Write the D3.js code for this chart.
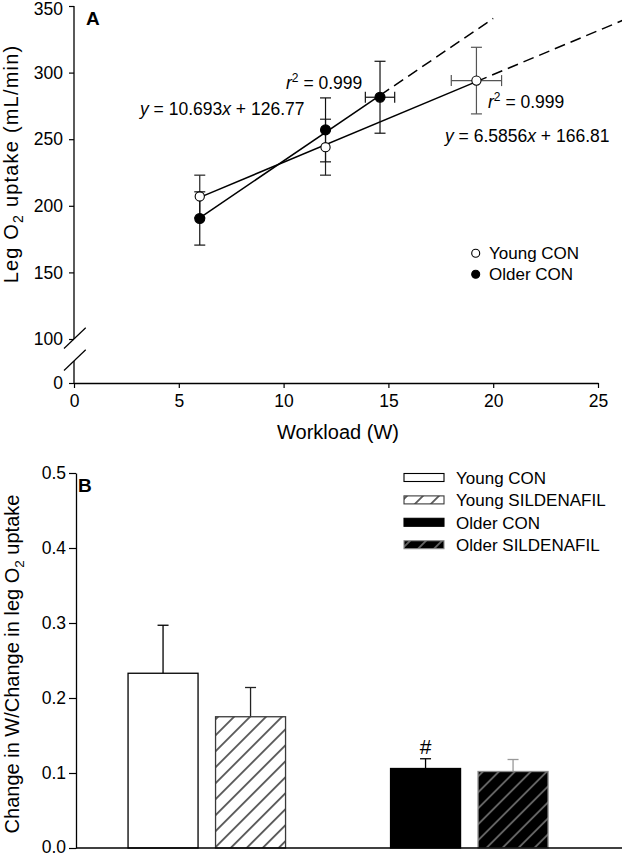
<!DOCTYPE html>
<html><head><meta charset="utf-8">
<script src="https://cdn.jsdelivr.net/npm/d3@7"></script>
<style>
html,body{margin:0;padding:0;background:#fff;}
svg{display:block;}
text{font-family:"Liberation Sans",Arial,Helvetica,sans-serif;fill:#000;}
</style></head><body>
<svg id="chart" width="622" height="856"></svg>
<script>
// ---------- Panel A data ----------
const youngX = [6, 12, 19.2];
const youngY = [207, 244, 294];
const youngYErr = [16, 21, 25];
const youngXErr = [0, 0, 1.2];
const olderX = [6, 12, 14.6];
const olderY = [190.5, 257, 281.5];
const olderYErr = [20, 24, 27];
const olderXErr = [0, 0, 0.7];
const fitSlope = [6.5856, 10.693];      // young, older
const fitIntercept = [166.81, 126.77];
const fitEndX = [26.2, 20.0];
const xTicksA = [0, 5, 10, 15, 20, 25];
const yTicksA = [0, 100, 150, 200, 250, 300, 350];
const legendA = ["Young CON", "Older CON"];
// ---------- Panel B data ----------
const barCats = ["Young CON", "Young SILDENAFIL", "Older CON", "Older SILDENAFIL"];
const barSlots = ["Young CON", "Young SILDENAFIL", "", "Older CON", "Older SILDENAFIL"];
const barVals = [0.233, 0.175, 0.106, 0.102];
const barErrs = [0.064, 0.039, 0.013, 0.016];
const yTicksB = [0, 0.1, 0.2, 0.3, 0.4, 0.5];

const W = 622, H = 856;
const FONT = 17.5;
const svg = d3.select("#chart");

// patterns
const defs = svg.append("defs");
function hatch(id, bg, fg, sw) {
  const p = defs.append("pattern").attr("id", id).attr("patternUnits", "userSpaceOnUse")
    .attr("width", 11.3).attr("height", 11.3).attr("patternTransform", "rotate(45)");
  p.append("rect").attr("width", 11.3).attr("height", 11.3).attr("fill", bg);
  p.append("line").attr("x1", 5.65).attr("x2", 5.65).attr("y1", -1).attr("y2", 12.3)
    .attr("stroke", fg).attr("stroke-width", sw);
}
hatch("hatchW", "#fff", "#000", 1.2);
hatch("hatchK", "#000", "#9a9a9a", 1.2);

// =================== PANEL A ===================
const xA = d3.scaleLinear().domain([0, 25]).range([74, 598]);
const yA = d3.scaleLinear().domain([0, 100, 350]).range([383, 339, 6]);
const gA = svg.append("g");

// y axis
const gYA = gA.append("g").attr("transform", `translate(${xA(0)},0)`)
  .call(d3.axisLeft(yA).tickValues(yTicksA).tickSize(5).tickPadding(6));
gYA.select(".domain").remove();
gYA.selectAll("line").attr("stroke", "#000").attr("stroke-width", 1.2);
gYA.selectAll("text").attr("font-size", FONT).attr("font-family", null);
gYA.selectAll(".tick").filter(d => d === 350).select("text").attr("y", 2.5);
gA.append("line").attr("x1", xA(0)).attr("x2", xA(0)).attr("y1", yA(350)).attr("y2", yA(100))
  .attr("stroke", "#000").attr("stroke-width", 1.3);
gA.append("line").attr("x1", xA(0)).attr("x2", xA(0)).attr("y1", yA(50)).attr("y2", yA(0))
  .attr("stroke", "#000").attr("stroke-width", 1.3);
// break marks
[100, 50].forEach(v => {
  const cy = yA(v);
  gA.append("line").attr("x1", xA(0) - 10).attr("y1", cy + 9.5).attr("x2", xA(0) + 11.7).attr("y2", cy - 11.2)
    .attr("stroke", "#000").attr("stroke-width", 1.2);
});

// x axis
const gXA = gA.append("g").attr("transform", `translate(0,${yA(0)})`)
  .call(d3.axisBottom(xA).tickValues(xTicksA).tickSize(5).tickPadding(7).tickSizeOuter(0));
gXA.select(".domain").attr("stroke", "#000").attr("stroke-width", 1.3);
gXA.selectAll("line").attr("stroke", "#000").attr("stroke-width", 1.2);
gXA.selectAll("text").attr("font-size", FONT).attr("font-family", null);

gA.append("text").attr("x", 338).attr("y", 439).attr("text-anchor", "middle")
  .attr("font-size", 20).text("Workload (W)");

const ytA = gA.append("text").attr("transform", "translate(18,164) rotate(-90)")
  .attr("text-anchor", "middle").attr("font-size", 20).attr("letter-spacing", 1.2);
ytA.append("tspan").text("Leg O");
ytA.append("tspan").attr("font-size", 14).attr("dy", 5).text("2");
ytA.append("tspan").attr("dy", -5).text(" uptake (mL/min)");

gA.append("text").attr("x", 86).attr("y", 25).attr("font-size", 19).attr("font-weight", "bold").text("A");

// regression lines
const series = [
  {x: youngX, y: youngY, ye: youngYErr, xe: youngXErr, filled: false, errColor: ["#222", "#222", "#555"]},
  {x: olderX, y: olderY, ye: olderYErr, xe: olderXErr, filled: true, errColor: ["#111", "#111", "#111"]}
];
series.forEach((s, i) => {
  const f = x => fitSlope[i] * x + fitIntercept[i];
  const x0 = s.x[0], x1 = s.x[s.x.length - 1], x2 = fitEndX[i];
  gA.append("line").attr("x1", xA(x0)).attr("y1", yA(f(x0))).attr("x2", xA(x1)).attr("y2", yA(f(x1)))
    .attr("stroke", "#000").attr("stroke-width", 1.5);
  gA.append("line").attr("x1", xA(x1)).attr("y1", yA(f(x1))).attr("x2", xA(x2)).attr("y2", yA(f(x2)))
    .attr("stroke", "#000").attr("stroke-width", 1.5).attr("stroke-dasharray", "11,6");
});

// error bars
const CAP = 5.5;
series.forEach(s => {
  s.x.forEach((xv, j) => {
    const col = s.errColor[j];
    const px = xA(xv), py = yA(s.y[j]);
    const yt = yA(s.y[j] + s.ye[j]), yb = yA(s.y[j] - s.ye[j]);
    gA.append("line").attr("x1", px).attr("x2", px).attr("y1", yt).attr("y2", yb).attr("stroke", col).attr("stroke-width", 1.2);
    [yt, yb].forEach(yy => gA.append("line").attr("x1", px - CAP).attr("x2", px + CAP).attr("y1", yy).attr("y2", yy)
      .attr("stroke", col).attr("stroke-width", 1.2));
    if (s.xe[j] > 0) {
      const xl = xA(xv - s.xe[j]), xr = xA(xv + s.xe[j]);
      gA.append("line").attr("x1", xl).attr("x2", xr).attr("y1", py).attr("y2", py).attr("stroke", col).attr("stroke-width", 1.2);
      [xl, xr].forEach(xx => gA.append("line").attr("x1", xx).attr("x2", xx).attr("y1", py - CAP).attr("y2", py + CAP)
        .attr("stroke", col).attr("stroke-width", 1.2));
    }
  });
});
// points
series.forEach(s => {
  s.x.forEach((xv, j) => {
    gA.append("circle").attr("cx", xA(xv)).attr("cy", yA(s.y[j])).attr("r", s.filled ? 5 : 4.6)
      .attr("fill", s.filled ? "#000" : "#fff").attr("stroke", "#000").attr("stroke-width", 1.1);
  });
});

// annotations
function rsq(x, y) {
  const t = gA.append("text").attr("x", x).attr("y", y).attr("font-size", FONT);
  t.append("tspan").attr("font-style", "italic").text("r");
  t.append("tspan").attr("font-size", 12).attr("dy", -7).text("2");
  t.append("tspan").attr("dy", 7).text(" = 0.999");
}
function eqn(x, y, m, b) {
  const t = gA.append("text").attr("x", x).attr("y", y).attr("font-size", FONT);
  t.append("tspan").attr("font-style", "italic").text("y");
  t.append("tspan").text(` = ${m}`);
  t.append("tspan").attr("font-style", "italic").text("x");
  t.append("tspan").text(` + ${b}`);
}
rsq(286, 89);
eqn(140, 115, "10.693", "126.77");
rsq(488, 108);
eqn(445, 141.5, "6.5856", "166.81");

// legend A
legendA.forEach((name, i) => {
  const cy = 253.3 + i * 21;
  gA.append("circle").attr("cx", 475.7).attr("cy", cy).attr("r", 4)
    .attr("fill", i === 0 ? "#fff" : "#000").attr("stroke", "#000").attr("stroke-width", 1.1);
  gA.append("text").attr("x", 489).attr("y", cy + 6).attr("font-size", 17).text(name);
});

// =================== PANEL B ===================
const xB = d3.scaleBand().domain(barSlots).range([119.3, 556.8]).paddingInner(0.2).paddingOuter(0.1);
const yB = d3.scaleLinear().domain([0, 0.5]).range([848, 473]);
const gB = svg.append("g");

const barStyle = {
  "Young CON": {fill: "#fff", stroke: "#000", err: "#000"},
  "Young SILDENAFIL": {fill: "url(#hatchW)", stroke: "#3a3a3a", err: "#222"},
  "Older CON": {fill: "#000", stroke: "#000", err: "#000"},
  "Older SILDENAFIL": {fill: "url(#hatchK)", stroke: "#8a8a8a", err: "#999"}
};

// error bars (behind bars)
barCats.forEach((c, i) => {
  const cx = xB(c) + xB.bandwidth() / 2;
  const yt = yB(barVals[i] + barErrs[i]);
  gB.append("line").attr("x1", cx).attr("x2", cx).attr("y1", yB(barVals[i])).attr("y2", yt)
    .attr("stroke", barStyle[c].err).attr("stroke-width", 1.3);
  gB.append("line").attr("x1", cx - CAP).attr("x2", cx + CAP).attr("y1", yt).attr("y2", yt)
    .attr("stroke", barStyle[c].err).attr("stroke-width", 1.3);
});
gB.selectAll("rect.bar").data(barCats).enter().append("rect").attr("class", "bar")
  .attr("x", d => xB(d)).attr("width", xB.bandwidth())
  .attr("y", (d, i) => yB(barVals[i])).attr("height", (d, i) => yB(0) - yB(barVals[i]))
  .attr("fill", d => barStyle[d].fill).attr("stroke", d => barStyle[d].stroke).attr("stroke-width", 1.3);

// significance marker
{
  const i = barCats.indexOf("Older CON");
  gB.append("text").attr("x", xB("Older CON") + xB.bandwidth() / 2).attr("y", yB(barVals[i] + barErrs[i]) - 5)
    .attr("text-anchor", "middle").attr("font-size", 21).text("#");
}

// axes
const gYB = gB.append("g").attr("transform", "translate(76,0)")
  .call(d3.axisLeft(yB).tickValues(yTicksB).tickFormat(d3.format(".1f")).tickSize(7).tickPadding(3).tickSizeOuter(0));
gYB.select(".domain").attr("stroke", "#000").attr("stroke-width", 1.3);
gYB.selectAll("line").attr("stroke", "#000").attr("stroke-width", 1.2);
gYB.selectAll("text").attr("font-size", FONT).attr("font-family", null);
gYB.selectAll(".tick").filter(d => d === 0).select("text").attr("y", -1.5);
gB.append("line").attr("x1", 76).attr("x2", W).attr("y1", yB(0)).attr("y2", yB(0))
  .attr("stroke", "#000").attr("stroke-width", 1.3);

const ytB = gB.append("text").attr("transform", "translate(18.5,664) rotate(-90)")
  .attr("text-anchor", "middle").attr("font-size", 20);
ytB.append("tspan").text("Change in W/Change in leg O");
ytB.append("tspan").attr("font-size", 13.5).attr("dy", 5).text("2");
ytB.append("tspan").attr("dy", -5).text(" uptake");

gB.append("text").attr("x", 78).attr("y", 492).attr("font-size", 19).attr("font-weight", "bold").text("B");

// legend B
barCats.forEach((c, i) => {
  const top = 473.5 + i * 22.4;
  gB.append("rect").attr("x", 404).attr("y", top).attr("width", 40).attr("height", 8)
    .attr("fill", barStyle[c].fill).attr("stroke", barStyle[c].stroke).attr("stroke-width", 1.1);
  gB.append("text").attr("x", 456).attr("y", top + 10.5).attr("font-size", 17).text(c);
});
</script>
</body></html>
